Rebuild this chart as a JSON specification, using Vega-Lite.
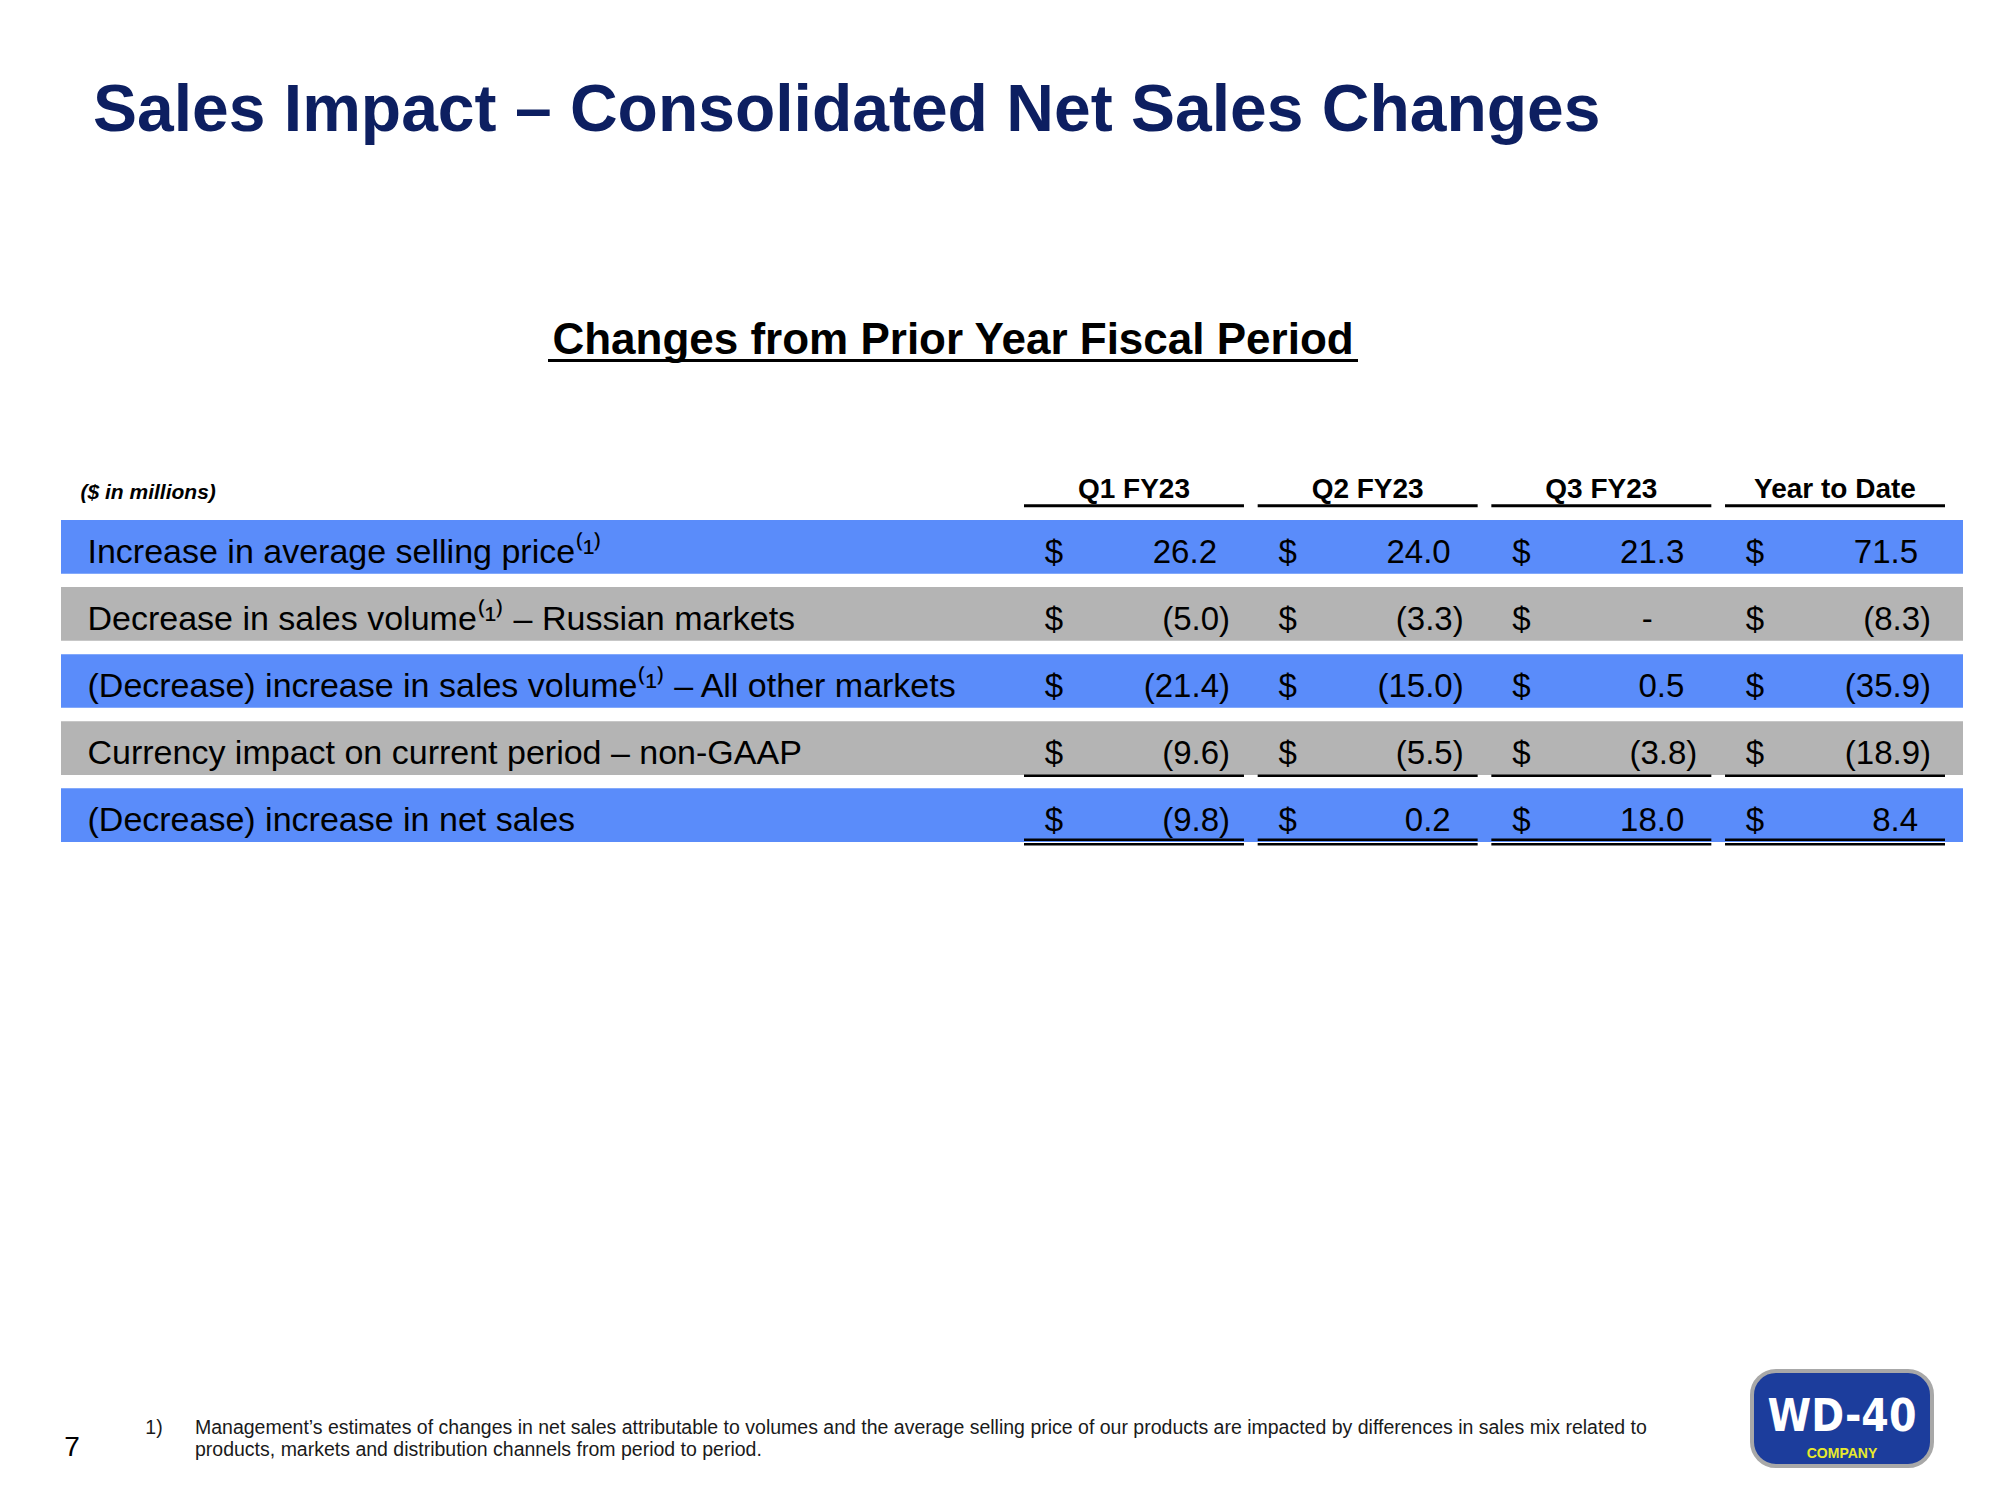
{
  "$schema": "https://vega.github.io/schema/vega-lite/v6.json",
  "width": 1902,
  "height": 1500,
  "autosize": {"type": "none"},
  "padding": {"left": 61, "right": 37, "top": 0, "bottom": 0},
  "background": "white",
  "config": {"view": {"stroke": null}, "font": "Liberation Sans"},
  "title": {
    "text": "Sales Impact – Consolidated Net Sales Changes",
    "anchor": "start",
    "frame": "group",
    "orient": "top",
    "offset": -145,
    "dx": 32,
    "fontSize": 66,
    "font": "Liberation Sans",
    "fontWeight": "bold",
    "color": "#0D1F61"
  },
  "layer": [
    {
      "data": {
        "values": [
          {"item": "Increase in average selling price⁽¹⁾", "period": "Q1 FY23", "value": 26.2, "label": "26.2"},
          {"item": "Increase in average selling price⁽¹⁾", "period": "Q2 FY23", "value": 24.0, "label": "24.0"},
          {"item": "Increase in average selling price⁽¹⁾", "period": "Q3 FY23", "value": 21.3, "label": "21.3"},
          {"item": "Increase in average selling price⁽¹⁾", "period": "Year to Date", "value": 71.5, "label": "71.5"},
          {"item": "Decrease in sales volume⁽¹⁾ – Russian markets", "period": "Q1 FY23", "value": -5.0, "label": "(5.0)"},
          {"item": "Decrease in sales volume⁽¹⁾ – Russian markets", "period": "Q2 FY23", "value": -3.3, "label": "(3.3)"},
          {"item": "Decrease in sales volume⁽¹⁾ – Russian markets", "period": "Q3 FY23", "value": 0, "label": "-"},
          {"item": "Decrease in sales volume⁽¹⁾ – Russian markets", "period": "Year to Date", "value": -8.3, "label": "(8.3)"},
          {"item": "(Decrease) increase in sales volume⁽¹⁾ – All other markets", "period": "Q1 FY23", "value": -21.4, "label": "(21.4)"},
          {"item": "(Decrease) increase in sales volume⁽¹⁾ – All other markets", "period": "Q2 FY23", "value": -15.0, "label": "(15.0)"},
          {"item": "(Decrease) increase in sales volume⁽¹⁾ – All other markets", "period": "Q3 FY23", "value": 0.5, "label": "0.5"},
          {"item": "(Decrease) increase in sales volume⁽¹⁾ – All other markets", "period": "Year to Date", "value": -35.9, "label": "(35.9)"},
          {"item": "Currency impact on current period – non-GAAP", "period": "Q1 FY23", "value": -9.6, "label": "(9.6)"},
          {"item": "Currency impact on current period – non-GAAP", "period": "Q2 FY23", "value": -5.5, "label": "(5.5)"},
          {"item": "Currency impact on current period – non-GAAP", "period": "Q3 FY23", "value": -3.8, "label": "(3.8)"},
          {"item": "Currency impact on current period – non-GAAP", "period": "Year to Date", "value": -18.9, "label": "(18.9)"},
          {"item": "(Decrease) increase in net sales", "period": "Q1 FY23", "value": -9.8, "label": "(9.8)"},
          {"item": "(Decrease) increase in net sales", "period": "Q2 FY23", "value": 0.2, "label": "0.2"},
          {"item": "(Decrease) increase in net sales", "period": "Q3 FY23", "value": 18.0, "label": "18.0"},
          {"item": "(Decrease) increase in net sales", "period": "Year to Date", "value": 8.4, "label": "8.4"}
        ]
      },
      "layer": [
        {
          "transform": [{"aggregate": [{"op": "count", "as": "n"}], "groupby": ["item"]}],
          "mark": {"type": "bar"},
          "encoding": {
            "y": {
              "field": "item", "type": "nominal", "title": "($ in millions)",
              "scale": {"type": "band", "domain": ["Increase in average selling price⁽¹⁾", "Decrease in sales volume⁽¹⁾ – Russian markets", "(Decrease) increase in sales volume⁽¹⁾ – All other markets", "Currency impact on current period – non-GAAP", "(Decrease) increase in net sales"], "range": [520, 842], "paddingInner": 0.2, "paddingOuter": 0},
              "axis": {"orient": "left", "zindex": 1, "domain": false, "ticks": false, "grid": false, "labelAlign": "left", "labelPadding": -26, "labelLimit": 2000, "labelFontSize": 34, "labelColor": "black", "labelBaseline": "alphabetic", "labelOffset": 16, "title": "($ in millions)", "titleX": 19, "titleY": 498, "titleAngle": 0, "titleAlign": "left", "titleBaseline": "alphabetic", "titleFontSize": 21, "titleFontWeight": "bold", "titleFontStyle": "italic", "titleColor": "black"}
            },
            "color": {
              "field": "item", "type": "nominal",
              "scale": {"domain": ["Increase in average selling price⁽¹⁾", "Decrease in sales volume⁽¹⁾ – Russian markets", "(Decrease) increase in sales volume⁽¹⁾ – All other markets", "Currency impact on current period – non-GAAP", "(Decrease) increase in net sales"], "range": ["#5A8CFA", "#B4B4B4", "#5A8CFA", "#B4B4B4", "#5A8CFA"]},
              "legend": null
            }
          }
        },
        {
          "transform": [{"filter": "indexof(datum.item, 'Increase in average') == 0"}],
          "mark": {"type": "bar", "height": 3, "yOffset": -41, "color": "black"},
          "encoding": {
            "x": {"field": "period", "type": "nominal", "title": null, "scale": {"type": "band", "domain": ["Q1 FY23", "Q2 FY23", "Q3 FY23", "Year to Date"], "range": [963, 1884], "paddingInner": 0.0586, "paddingOuter": 0},
              "axis": {"orient": "top", "offset": -506, "domain": false, "ticks": false, "grid": false, "labelPadding": 9, "labelBaseline": "alphabetic", "labelFontSize": 28, "labelFontWeight": "bold", "labelColor": "black", "labelAngle": 0, "labelLimit": 400, "title": null}},
            "y": {"field": "item", "type": "nominal", "title": "($ in millions)", "scale": {"type": "band", "domain": ["Increase in average selling price⁽¹⁾", "Decrease in sales volume⁽¹⁾ – Russian markets", "(Decrease) increase in sales volume⁽¹⁾ – All other markets", "Currency impact on current period – non-GAAP", "(Decrease) increase in net sales"], "range": [520, 842], "paddingInner": 0.2, "paddingOuter": 0},
              "axis": {"orient": "left", "zindex": 1, "domain": false, "ticks": false, "grid": false, "labelAlign": "left", "labelPadding": -26, "labelLimit": 2000, "labelFontSize": 34, "labelColor": "black", "labelBaseline": "alphabetic", "labelOffset": 16, "title": "($ in millions)", "titleX": 19, "titleY": 498, "titleAngle": 0, "titleAlign": "left", "titleBaseline": "alphabetic", "titleFontSize": 21, "titleFontWeight": "bold", "titleFontStyle": "italic", "titleColor": "black"}}
          }
        },
        {
          "transform": [{"filter": "indexof(datum.item, 'Currency') == 0"}],
          "mark": {"type": "bar", "height": 2.5, "yOffset": 27.6, "color": "black"},
          "encoding": {
            "x": {"field": "period", "type": "nominal", "title": null, "scale": {"type": "band", "domain": ["Q1 FY23", "Q2 FY23", "Q3 FY23", "Year to Date"], "range": [963, 1884], "paddingInner": 0.0586, "paddingOuter": 0},
              "axis": {"orient": "top", "offset": -506, "domain": false, "ticks": false, "grid": false, "labelPadding": 9, "labelBaseline": "alphabetic", "labelFontSize": 28, "labelFontWeight": "bold", "labelColor": "black", "labelAngle": 0, "labelLimit": 400, "title": null}},
            "y": {"field": "item", "type": "nominal", "title": "($ in millions)", "scale": {"type": "band", "domain": ["Increase in average selling price⁽¹⁾", "Decrease in sales volume⁽¹⁾ – Russian markets", "(Decrease) increase in sales volume⁽¹⁾ – All other markets", "Currency impact on current period – non-GAAP", "(Decrease) increase in net sales"], "range": [520, 842], "paddingInner": 0.2, "paddingOuter": 0},
              "axis": {"orient": "left", "zindex": 1, "domain": false, "ticks": false, "grid": false, "labelAlign": "left", "labelPadding": -26, "labelLimit": 2000, "labelFontSize": 34, "labelColor": "black", "labelBaseline": "alphabetic", "labelOffset": 16, "title": "($ in millions)", "titleX": 19, "titleY": 498, "titleAngle": 0, "titleAlign": "left", "titleBaseline": "alphabetic", "titleFontSize": 21, "titleFontWeight": "bold", "titleFontStyle": "italic", "titleColor": "black"}}
          }
        },
        {
          "transform": [{"filter": "datum.item == '(Decrease) increase in net sales'"}],
          "mark": {"type": "bar", "height": 2.5, "yOffset": 24.6, "color": "black"},
          "encoding": {
            "x": {"field": "period", "type": "nominal", "title": null, "scale": {"type": "band", "domain": ["Q1 FY23", "Q2 FY23", "Q3 FY23", "Year to Date"], "range": [963, 1884], "paddingInner": 0.0586, "paddingOuter": 0},
              "axis": {"orient": "top", "offset": -506, "domain": false, "ticks": false, "grid": false, "labelPadding": 9, "labelBaseline": "alphabetic", "labelFontSize": 28, "labelFontWeight": "bold", "labelColor": "black", "labelAngle": 0, "labelLimit": 400, "title": null}},
            "y": {"field": "item", "type": "nominal", "title": "($ in millions)", "scale": {"type": "band", "domain": ["Increase in average selling price⁽¹⁾", "Decrease in sales volume⁽¹⁾ – Russian markets", "(Decrease) increase in sales volume⁽¹⁾ – All other markets", "Currency impact on current period – non-GAAP", "(Decrease) increase in net sales"], "range": [520, 842], "paddingInner": 0.2, "paddingOuter": 0},
              "axis": {"orient": "left", "zindex": 1, "domain": false, "ticks": false, "grid": false, "labelAlign": "left", "labelPadding": -26, "labelLimit": 2000, "labelFontSize": 34, "labelColor": "black", "labelBaseline": "alphabetic", "labelOffset": 16, "title": "($ in millions)", "titleX": 19, "titleY": 498, "titleAngle": 0, "titleAlign": "left", "titleBaseline": "alphabetic", "titleFontSize": 21, "titleFontWeight": "bold", "titleFontStyle": "italic", "titleColor": "black"}}
          }
        },
        {
          "transform": [{"filter": "datum.item == '(Decrease) increase in net sales'"}],
          "mark": {"type": "bar", "height": 2.5, "yOffset": 29.2, "color": "black"},
          "encoding": {
            "x": {"field": "period", "type": "nominal", "title": null, "scale": {"type": "band", "domain": ["Q1 FY23", "Q2 FY23", "Q3 FY23", "Year to Date"], "range": [963, 1884], "paddingInner": 0.0586, "paddingOuter": 0},
              "axis": {"orient": "top", "offset": -506, "domain": false, "ticks": false, "grid": false, "labelPadding": 9, "labelBaseline": "alphabetic", "labelFontSize": 28, "labelFontWeight": "bold", "labelColor": "black", "labelAngle": 0, "labelLimit": 400, "title": null}},
            "y": {"field": "item", "type": "nominal", "title": "($ in millions)", "scale": {"type": "band", "domain": ["Increase in average selling price⁽¹⁾", "Decrease in sales volume⁽¹⁾ – Russian markets", "(Decrease) increase in sales volume⁽¹⁾ – All other markets", "Currency impact on current period – non-GAAP", "(Decrease) increase in net sales"], "range": [520, 842], "paddingInner": 0.2, "paddingOuter": 0},
              "axis": {"orient": "left", "zindex": 1, "domain": false, "ticks": false, "grid": false, "labelAlign": "left", "labelPadding": -26, "labelLimit": 2000, "labelFontSize": 34, "labelColor": "black", "labelBaseline": "alphabetic", "labelOffset": 16, "title": "($ in millions)", "titleX": 19, "titleY": 498, "titleAngle": 0, "titleAlign": "left", "titleBaseline": "alphabetic", "titleFontSize": 21, "titleFontWeight": "bold", "titleFontStyle": "italic", "titleColor": "black"}}
          }
        },
        {
          "mark": {"type": "text", "align": "center", "baseline": "alphabetic", "dx": 30, "dy": 16, "fontSize": 33, "color": "black"},
          "encoding": {
            "x": {"field": "period", "type": "nominal", "title": null, "bandPosition": 0, "scale": {"type": "band", "domain": ["Q1 FY23", "Q2 FY23", "Q3 FY23", "Year to Date"], "range": [963, 1884], "paddingInner": 0.0586, "paddingOuter": 0},
              "axis": {"orient": "top", "offset": -506, "domain": false, "ticks": false, "grid": false, "labelPadding": 9, "labelBaseline": "alphabetic", "labelFontSize": 28, "labelFontWeight": "bold", "labelColor": "black", "labelAngle": 0, "labelLimit": 400, "title": null}},
            "y": {"field": "item", "type": "nominal", "title": "($ in millions)", "scale": {"type": "band", "domain": ["Increase in average selling price⁽¹⁾", "Decrease in sales volume⁽¹⁾ – Russian markets", "(Decrease) increase in sales volume⁽¹⁾ – All other markets", "Currency impact on current period – non-GAAP", "(Decrease) increase in net sales"], "range": [520, 842], "paddingInner": 0.2, "paddingOuter": 0},
              "axis": {"orient": "left", "zindex": 1, "domain": false, "ticks": false, "grid": false, "labelAlign": "left", "labelPadding": -26, "labelLimit": 2000, "labelFontSize": 34, "labelColor": "black", "labelBaseline": "alphabetic", "labelOffset": 16, "title": "($ in millions)", "titleX": 19, "titleY": 498, "titleAngle": 0, "titleAlign": "left", "titleBaseline": "alphabetic", "titleFontSize": 21, "titleFontWeight": "bold", "titleFontStyle": "italic", "titleColor": "black"}},
            "text": {"value": "$"}
          }
        },
        {
          "transform": [{"filter": "datum.value > 0"}],
          "mark": {"type": "text", "align": "right", "baseline": "alphabetic", "dx": 193, "dy": 16, "fontSize": 33, "color": "black"},
          "encoding": {
            "x": {"field": "period", "type": "nominal", "title": null, "bandPosition": 0, "scale": {"type": "band", "domain": ["Q1 FY23", "Q2 FY23", "Q3 FY23", "Year to Date"], "range": [963, 1884], "paddingInner": 0.0586, "paddingOuter": 0},
              "axis": {"orient": "top", "offset": -506, "domain": false, "ticks": false, "grid": false, "labelPadding": 9, "labelBaseline": "alphabetic", "labelFontSize": 28, "labelFontWeight": "bold", "labelColor": "black", "labelAngle": 0, "labelLimit": 400, "title": null}},
            "y": {"field": "item", "type": "nominal", "title": "($ in millions)", "scale": {"type": "band", "domain": ["Increase in average selling price⁽¹⁾", "Decrease in sales volume⁽¹⁾ – Russian markets", "(Decrease) increase in sales volume⁽¹⁾ – All other markets", "Currency impact on current period – non-GAAP", "(Decrease) increase in net sales"], "range": [520, 842], "paddingInner": 0.2, "paddingOuter": 0},
              "axis": {"orient": "left", "zindex": 1, "domain": false, "ticks": false, "grid": false, "labelAlign": "left", "labelPadding": -26, "labelLimit": 2000, "labelFontSize": 34, "labelColor": "black", "labelBaseline": "alphabetic", "labelOffset": 16, "title": "($ in millions)", "titleX": 19, "titleY": 498, "titleAngle": 0, "titleAlign": "left", "titleBaseline": "alphabetic", "titleFontSize": 21, "titleFontWeight": "bold", "titleFontStyle": "italic", "titleColor": "black"}},
            "text": {"field": "label"}
          }
        },
        {
          "transform": [{"filter": "datum.value < 0"}],
          "mark": {"type": "text", "align": "right", "baseline": "alphabetic", "dx": 206, "dy": 16, "fontSize": 33, "color": "black"},
          "encoding": {
            "x": {"field": "period", "type": "nominal", "title": null, "bandPosition": 0, "scale": {"type": "band", "domain": ["Q1 FY23", "Q2 FY23", "Q3 FY23", "Year to Date"], "range": [963, 1884], "paddingInner": 0.0586, "paddingOuter": 0},
              "axis": {"orient": "top", "offset": -506, "domain": false, "ticks": false, "grid": false, "labelPadding": 9, "labelBaseline": "alphabetic", "labelFontSize": 28, "labelFontWeight": "bold", "labelColor": "black", "labelAngle": 0, "labelLimit": 400, "title": null}},
            "y": {"field": "item", "type": "nominal", "title": "($ in millions)", "scale": {"type": "band", "domain": ["Increase in average selling price⁽¹⁾", "Decrease in sales volume⁽¹⁾ – Russian markets", "(Decrease) increase in sales volume⁽¹⁾ – All other markets", "Currency impact on current period – non-GAAP", "(Decrease) increase in net sales"], "range": [520, 842], "paddingInner": 0.2, "paddingOuter": 0},
              "axis": {"orient": "left", "zindex": 1, "domain": false, "ticks": false, "grid": false, "labelAlign": "left", "labelPadding": -26, "labelLimit": 2000, "labelFontSize": 34, "labelColor": "black", "labelBaseline": "alphabetic", "labelOffset": 16, "title": "($ in millions)", "titleX": 19, "titleY": 498, "titleAngle": 0, "titleAlign": "left", "titleBaseline": "alphabetic", "titleFontSize": 21, "titleFontWeight": "bold", "titleFontStyle": "italic", "titleColor": "black"}},
            "text": {"field": "label"}
          }
        },
        {
          "transform": [{"filter": "datum.value == 0"}],
          "mark": {"type": "text", "align": "center", "baseline": "alphabetic", "dx": 156, "dy": 16, "fontSize": 33, "color": "black"},
          "encoding": {
            "x": {"field": "period", "type": "nominal", "title": null, "bandPosition": 0, "scale": {"type": "band", "domain": ["Q1 FY23", "Q2 FY23", "Q3 FY23", "Year to Date"], "range": [963, 1884], "paddingInner": 0.0586, "paddingOuter": 0},
              "axis": {"orient": "top", "offset": -506, "domain": false, "ticks": false, "grid": false, "labelPadding": 9, "labelBaseline": "alphabetic", "labelFontSize": 28, "labelFontWeight": "bold", "labelColor": "black", "labelAngle": 0, "labelLimit": 400, "title": null}},
            "y": {"field": "item", "type": "nominal", "title": "($ in millions)", "scale": {"type": "band", "domain": ["Increase in average selling price⁽¹⁾", "Decrease in sales volume⁽¹⁾ – Russian markets", "(Decrease) increase in sales volume⁽¹⁾ – All other markets", "Currency impact on current period – non-GAAP", "(Decrease) increase in net sales"], "range": [520, 842], "paddingInner": 0.2, "paddingOuter": 0},
              "axis": {"orient": "left", "zindex": 1, "domain": false, "ticks": false, "grid": false, "labelAlign": "left", "labelPadding": -26, "labelLimit": 2000, "labelFontSize": 34, "labelColor": "black", "labelBaseline": "alphabetic", "labelOffset": 16, "title": "($ in millions)", "titleX": 19, "titleY": 498, "titleAngle": 0, "titleAlign": "left", "titleBaseline": "alphabetic", "titleFontSize": 21, "titleFontWeight": "bold", "titleFontStyle": "italic", "titleColor": "black"}},
            "text": {"field": "label"}
          }
        }
      ]
    },
    {
      "data": {"values": [{"caption": "Changes from Prior Year Fiscal Period"}]},
      "mark": {"type": "bar", "color": "black"},
      "encoding": {
        "x": {
          "field": "caption", "type": "nominal",
          "scale": {"type": "band", "range": [487, 1297], "paddingInner": 0, "paddingOuter": 0},
          "axis": {"orient": "top", "offset": -360, "domain": false, "ticks": false, "grid": false, "labelPadding": 7, "labelBaseline": "alphabetic", "labelFontSize": 44, "labelFontWeight": "bold", "labelColor": "black", "labelLimit": 2000, "labelAngle": 0, "title": null}
        },
        "y": {"field": "caption", "type": "nominal", "scale": {"type": "band", "range": [359, 362], "paddingInner": 0, "paddingOuter": 0}, "axis": null}
      }
    },
    {
      "layer": [
        {
          "data": {"values": [
            {"line": "1", "marker": "1)", "note": "Management’s estimates of changes in net sales attributable to volumes and the average selling price of our products are impacted by differences in sales mix related to"},
            {"line": "2", "marker": "", "note": "products, markets and distribution channels from period to period."}
          ]},
          "layer": [
            {
              "mark": {"type": "text", "align": "center", "baseline": "alphabetic", "fontSize": 19.5, "color": "#1a1a1a"},
              "encoding": {
                "x": {"datum": "note", "type": "nominal", "scale": {"type": "point", "domain": ["page", "note"], "range": [11, 93], "padding": 0}, "axis": null},
                "y": {"field": "line", "type": "ordinal", "scale": {"type": "point", "domain": ["1", "2"], "range": [1434, 1456], "padding": 0}, "axis": null},
                "text": {"field": "marker"}
              }
            },
            {
              "mark": {"type": "text", "align": "left", "baseline": "alphabetic", "dx": 41, "fontSize": 19.5, "color": "#1a1a1a"},
              "encoding": {
                "x": {"datum": "note", "type": "nominal", "scale": {"type": "point", "domain": ["page", "note"], "range": [11, 93], "padding": 0}, "axis": null},
                "y": {"field": "line", "type": "ordinal", "scale": {"type": "point", "domain": ["1", "2"], "range": [1434, 1456], "padding": 0}, "axis": null},
                "text": {"field": "note"}
              }
            }
          ]
        },
        {
          "data": {"values": [{"page": "7"}]},
          "mark": {"type": "text", "align": "center", "baseline": "alphabetic", "dy": 0, "fontSize": 28, "color": "black"},
          "encoding": {
            "x": {"datum": "page", "type": "nominal", "scale": {"type": "point", "domain": ["page", "note"], "range": [11, 93], "padding": 0}, "axis": null},
            "y": {"datum": "2", "type": "ordinal", "scale": {"type": "point", "domain": ["1", "2"], "range": [1434, 1456], "padding": 0}, "axis": null},
            "text": {"field": "page"}
          }
        }
      ]
    },
    {
      "data": {"values": [{"brand": "WD-40", "sub": "COMPANY"}]},
      "layer": [
        {
          "mark": {"type": "bar", "fill": "#1C3D9C", "stroke": "#A8A8A8", "strokeWidth": 4, "cornerRadius": 24},
          "encoding": {
            "x": {"field": "brand", "type": "nominal", "scale": {"type": "band", "range": [1691, 1871], "paddingInner": 0, "paddingOuter": 0}, "axis": null},
            "y": {"field": "brand", "type": "nominal", "scale": {"type": "band", "range": [1371, 1466], "paddingInner": 0, "paddingOuter": 0}, "axis": null}
          }
        },
        {
          "mark": {"type": "text", "align": "center", "baseline": "alphabetic", "dy": 12, "fontSize": 44, "fontWeight": "bold", "font": "Liberation Sans Narrow, DejaVu Sans Condensed, sans-serif", "color": "white"},
          "encoding": {
            "x": {"field": "brand", "type": "nominal", "scale": {"type": "band", "range": [1691, 1871], "paddingInner": 0, "paddingOuter": 0}, "axis": null},
            "y": {"field": "brand", "type": "nominal", "scale": {"type": "band", "range": [1371, 1466], "paddingInner": 0, "paddingOuter": 0}, "axis": null},
            "text": {"field": "brand"}
          }
        },
        {
          "mark": {"type": "text", "align": "center", "baseline": "alphabetic", "dy": 39, "fontSize": 14, "fontWeight": "bold", "color": "#E8EA2C"},
          "encoding": {
            "x": {"field": "brand", "type": "nominal", "scale": {"type": "band", "range": [1691, 1871], "paddingInner": 0, "paddingOuter": 0}, "axis": null},
            "y": {"field": "brand", "type": "nominal", "scale": {"type": "band", "range": [1371, 1466], "paddingInner": 0, "paddingOuter": 0}, "axis": null},
            "text": {"field": "sub"}
          }
        }
      ]
    }
  ],
  "resolve": {"scale": {"x": "independent", "y": "independent"}, "axis": {"x": "independent", "y": "independent"}}
}
